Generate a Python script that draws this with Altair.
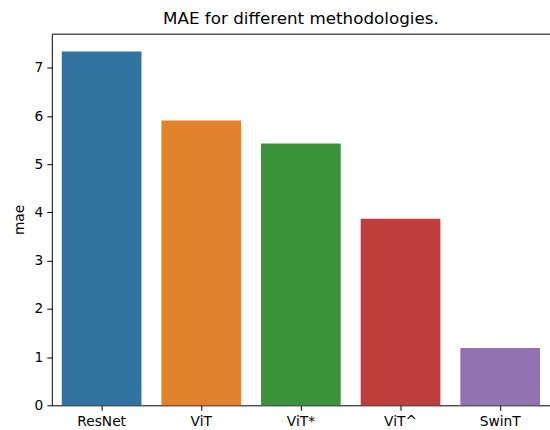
import altair as alt
import pandas as pd

methods = ["ResNet", "ViT", "ViT*", "ViT^", "SwinT"]
mae = [7.34, 5.91, 5.43, 3.87, 1.19]
colors = ["#3274a1", "#e1812c", "#3a923a", "#c03d3e", "#9372b2"]

df = pd.DataFrame({"method": methods, "mae": mae})

chart = alt.Chart(df).mark_bar().encode(
    x=alt.X("method:N", sort=methods, title=None,
            scale=alt.Scale(paddingInner=0.2, paddingOuter=0.1),
            axis=alt.Axis(labelAngle=0, labelFontSize=13.8, labelColor="black",
                          tickSize=5, tickColor="black", domain=False, labelPadding=4)),
    y=alt.Y("mae:Q", title="mae",
            scale=alt.Scale(domain=[0, 7.71], nice=False),
            axis=alt.Axis(values=list(range(8)), labelFontSize=13.8, labelColor="black",
                          tickSize=5, tickColor="black", domain=False, grid=False,
                          titleFontSize=13.8, titleFontWeight="normal", titleColor="black",
                          labelPadding=4, titlePadding=8)),
    color=alt.Color("method:N", sort=methods,
                    scale=alt.Scale(domain=methods, range=colors), legend=None),
).properties(
    width=500, height=373,
    title=alt.TitleParams("MAE for different methodologies.", fontSize=16.8,
                          fontWeight="normal", color="black", offset=6),
    autosize=alt.AutoSizeParams(type="none"),
    padding={"left": 52, "top": 33, "right": 0, "bottom": 24},
).configure(font="DejaVu Sans").configure_view(stroke="black", strokeWidth=1)

chart.save("out.html", embed_options={"renderer": "svg", "actions": False})
